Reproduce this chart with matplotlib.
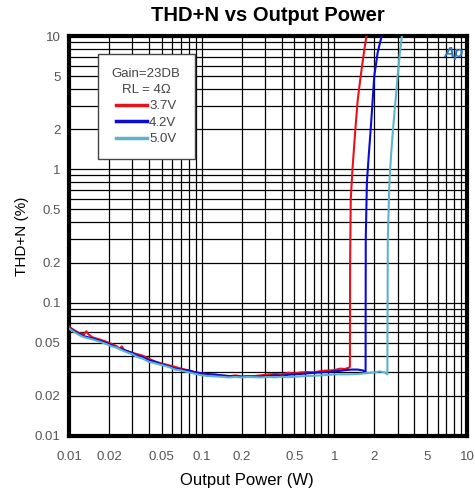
import matplotlib
matplotlib.use("Agg")
import matplotlib.pyplot as plt
from matplotlib.ticker import FixedLocator, NullFormatter, LogLocator

# ---- data ----
x_red = [0.01, 0.011, 0.012, 0.013, 0.0135, 0.014, 0.015, 0.017, 0.019, 0.021, 0.023, 0.024,
         0.025, 0.026, 0.028, 0.03, 0.033, 0.036, 0.04, 0.045, 0.05, 0.056, 0.063, 0.07, 0.08,
         0.09, 0.1, 0.11, 0.125, 0.14, 0.16, 0.18, 0.2, 0.22, 0.25, 0.28, 0.32, 0.36, 0.4, 0.45,
         0.5, 0.56, 0.63, 0.7, 0.8, 0.9, 1.0, 1.1, 1.2, 1.28, 1.31, 1.315, 1.33, 1.37, 1.44,
         1.50, 1.58, 1.67, 1.76]
y_red = [0.066, 0.062, 0.059, 0.058, 0.061, 0.058, 0.055, 0.053, 0.051, 0.049, 0.047, 0.045,
         0.047, 0.044, 0.043, 0.042, 0.041, 0.040, 0.038, 0.036, 0.035, 0.034, 0.033, 0.032,
         0.031, 0.030, 0.0295, 0.029, 0.029, 0.0285, 0.028, 0.0285, 0.028, 0.028, 0.0282,
         0.0285, 0.029, 0.0292, 0.029, 0.0298, 0.0295, 0.030, 0.0302, 0.030, 0.0308, 0.031,
         0.0312, 0.032, 0.0318, 0.0325, 0.033, 0.2, 0.6, 1.0, 2.0, 3.3, 5.0, 7.5, 10.5]

x_blue = [0.01, 0.011, 0.012, 0.013, 0.014, 0.015, 0.017, 0.019, 0.021, 0.023, 0.025, 0.028,
          0.03, 0.033, 0.036, 0.04, 0.045, 0.05, 0.056, 0.063, 0.07, 0.08, 0.09, 0.1, 0.11,
          0.125, 0.14, 0.16, 0.18, 0.2, 0.22, 0.25, 0.28, 0.32, 0.36, 0.4, 0.45, 0.5, 0.56,
          0.63, 0.7, 0.8, 0.9, 1.0, 1.1, 1.2, 1.35, 1.5, 1.65, 1.70, 1.72, 1.725, 1.76, 1.82,
          1.88, 2.0, 2.12, 2.30]
y_blue = [0.065, 0.061, 0.058, 0.056, 0.055, 0.054, 0.052, 0.050, 0.048, 0.046, 0.045, 0.043,
          0.042, 0.040, 0.039, 0.037, 0.036, 0.0345, 0.0335, 0.032, 0.0315, 0.031, 0.030,
          0.0295, 0.0292, 0.0288, 0.0285, 0.0282, 0.028, 0.0278, 0.028, 0.0278, 0.028, 0.0282,
          0.0285, 0.0283, 0.0288, 0.029, 0.0292, 0.0295, 0.0298, 0.030, 0.0302, 0.0305,
          0.0308, 0.0312, 0.0315, 0.0315, 0.031, 0.0298, 0.030, 0.3, 0.8, 1.3, 2.0, 5.0, 7.5,
          10.5]

x_cyan = [0.01, 0.011, 0.012, 0.013, 0.014, 0.015, 0.017, 0.019, 0.021, 0.023, 0.025, 0.028,
          0.03, 0.033, 0.036, 0.04, 0.045, 0.05, 0.056, 0.063, 0.07, 0.08, 0.09, 0.1, 0.11,
          0.125, 0.14, 0.16, 0.18, 0.2, 0.22, 0.25, 0.28, 0.32, 0.36, 0.4, 0.45, 0.5, 0.56,
          0.63, 0.7, 0.8, 0.9, 1.0, 1.15, 1.3, 1.5, 1.7, 2.0, 2.2, 2.4, 2.51, 2.53, 2.6, 2.68,
          2.77, 3.0, 3.12, 3.25]
y_cyan = [0.064, 0.060, 0.057, 0.055, 0.054, 0.053, 0.051, 0.049, 0.047, 0.046, 0.044, 0.042,
          0.041, 0.039, 0.038, 0.036, 0.035, 0.034, 0.033, 0.0315, 0.031, 0.030, 0.0292,
          0.0285, 0.0282, 0.028, 0.0278, 0.0275, 0.0277, 0.0275, 0.0277, 0.0276, 0.0275,
          0.0277, 0.0275, 0.0278, 0.0276, 0.0278, 0.028, 0.0282, 0.0283, 0.0285, 0.0287,
          0.029, 0.029, 0.029, 0.0292, 0.0295, 0.030, 0.0305, 0.030, 0.029, 0.3, 0.8, 1.3,
          2.0, 5.0, 7.5, 10.5]

series_labels = ["3.7V", "4.2V", "5.0V"]
series_colors = ["#e8121c", "#0b0bd6", "#5db4c9"]
tick_vals = [0.01, 0.02, 0.05, 0.1, 0.2, 0.5, 1, 2, 5, 10]
tick_text = ["0.01", "0.02", "0.05", "0.1", "0.2", "0.5", "1", "2", "5", "10"]

plt.rcParams['font.family'] = ['Liberation Sans', 'DejaVu Sans']

fig = plt.figure(figsize=(4.75, 4.93), dpi=100)
ax = fig.add_axes([69/475, 1-436/493, 398/475, 400/493])
ax.set_xscale('log')
ax.set_yscale('log')
ax.set_xlim(0.01, 10)
ax.set_ylim(0.01, 10)

for xs, ys, lab, col in zip([x_red, x_blue, x_cyan], [y_red, y_blue, y_cyan],
                            series_labels, series_colors):
    ax.plot(xs, ys, color=col, lw=1.5, label=lab, zorder=3)

ax.xaxis.set_major_locator(FixedLocator(tick_vals))
ax.yaxis.set_major_locator(FixedLocator(tick_vals))
ax.set_xticklabels(tick_text)
ax.set_yticklabels(tick_text)
ax.xaxis.set_minor_locator(LogLocator(base=10, subs=range(2, 10)))
ax.yaxis.set_minor_locator(LogLocator(base=10, subs=range(2, 10)))
ax.xaxis.set_minor_formatter(NullFormatter())
ax.yaxis.set_minor_formatter(NullFormatter())
ax.grid(which='both', color='black', lw=0.9, zorder=1)
ax.tick_params(which='both', length=0, labelsize=9.5, labelcolor='#555555')
ax.tick_params(axis='x', pad=11)
ax.tick_params(axis='y', pad=6)
for s in ax.spines.values():
    s.set_linewidth(3)

ax.set_title("THD+N vs Output Power", fontsize=14.5, fontweight='bold', pad=11)
fig.text(247/475, 1-480/493, "Output Power (W)", ha='center', va='center', fontsize=12)
fig.text(22/475, 1-236/493, "THD+N (%)", ha='center', va='center', rotation=90, fontsize=11)

leg = ax.legend(loc='upper left', bbox_to_anchor=((98-69)/398, 1-(54-36)/400),
                title="Gain=23DB\nRL = 4Ω", fontsize=9.5, title_fontsize=9.5,
                frameon=True, fancybox=False, handlelength=2.3, handletextpad=0.2,
                borderpad=1.05, labelspacing=0.32, borderaxespad=0, alignment='center')
leg.get_frame().set_edgecolor('#444444')
leg.get_frame().set_linewidth(1.0)
leg.get_frame().set_alpha(1)
leg.get_title().set_linespacing(1.45)
leg.get_title().set_multialignment('center')
for t in leg.get_texts():
    t.set_color('#444444')
leg.get_title().set_color('#444444')
for l in leg.get_lines():
    l.set_linewidth(2.5)
leg.set_zorder(5)

ax.text(0.965, 0.958, "Ap", transform=ax.transAxes, ha='center', va='center',
        fontsize=11, color='#2a78c0', style='italic', fontweight='bold', zorder=6)

fig.savefig("out.png", dpi=100)
